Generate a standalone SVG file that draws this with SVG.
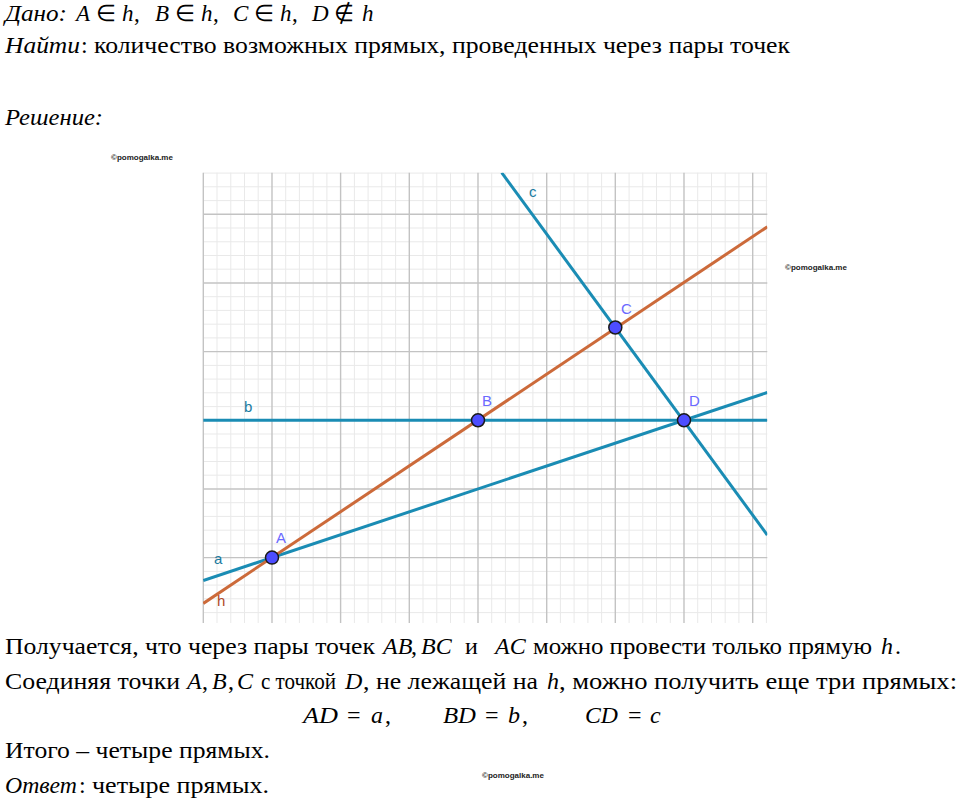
<svg xmlns="http://www.w3.org/2000/svg" width="960" height="803" viewBox="0 0 960 803">
<defs>
<style>
.t{font-family:"Liberation Serif","Times New Roman",serif;font-size:24px;fill:#000}
.i{font-style:italic}
.wm{font-family:"Liberation Sans",Arial,sans-serif;font-size:8px;font-weight:bold;fill:#222}
.minor{stroke:#e9e9e9;stroke-width:1;fill:none}
.major{stroke:#c3c3c3;stroke-width:1.4;fill:none}
.teal{stroke:#1a8cb4;stroke-width:3;fill:none}
.orange{stroke:#cc6a3a;stroke-width:3;fill:none}
.pt{fill:#4d4dff;stroke:#1a1a1a;stroke-width:1.5}
.pl{font-family:"Liberation Sans",Arial,sans-serif;font-size:15px;fill:#6a6aff}
.ll{font-family:"Liberation Sans",Arial,sans-serif;font-size:15px;fill:#1a7aa0}
.hl{font-family:"Liberation Sans",Arial,sans-serif;font-size:15px;fill:#b04a2a}
</style>
<clipPath id="gc"><rect x="203" y="172.7" width="564.3" height="450.3"/></clipPath>
</defs>

<g id="header">
<text class="t" y="21" style="font-size:23px"><tspan x="5" class="i" textLength="62" lengthAdjust="spacingAndGlyphs">Дано:</tspan><tspan x="76" class="i">A</tspan><tspan x="96">∈</tspan><tspan x="122" class="i">h</tspan><tspan x="134">,</tspan><tspan x="155" class="i">B</tspan><tspan x="175">∈</tspan><tspan x="201" class="i">h</tspan><tspan x="213">,</tspan><tspan x="233" class="i">C</tspan><tspan x="254">∈</tspan><tspan x="280" class="i">h</tspan><tspan x="292">,</tspan><tspan x="312" class="i">D</tspan><tspan x="334">∉</tspan><tspan x="362" class="i">h</tspan></text>
<text class="t" y="53"><tspan x="5" class="i" textLength="75" lengthAdjust="spacingAndGlyphs">Найти</tspan><tspan x="81">:</tspan><tspan x="94" textLength="696" lengthAdjust="spacingAndGlyphs">количество возможных прямых, проведенных через пары точек</tspan></text>
<text class="t i" x="5" y="125" textLength="98" lengthAdjust="spacingAndGlyphs">Решение:</text>
</g>

<g id="grid">
<path class="minor" d="M217.0 172.7V623M230.8 172.7V623M244.5 172.7V623M258.2 172.7V623M285.7 172.7V623M299.4 172.7V623M313.2 172.7V623M326.9 172.7V623M354.4 172.7V623M368.1 172.7V623M381.8 172.7V623M395.6 172.7V623M423.0 172.7V623M436.8 172.7V623M450.5 172.7V623M464.2 172.7V623M491.7 172.7V623M505.4 172.7V623M519.2 172.7V623M532.9 172.7V623M560.4 172.7V623M574.1 172.7V623M587.9 172.7V623M601.6 172.7V623M629.1 172.7V623M642.8 172.7V623M656.5 172.7V623M670.3 172.7V623M697.7 172.7V623M711.5 172.7V623M725.2 172.7V623M738.9 172.7V623M766.4 172.7V623
M203.3 173.1H767.3M203.3 186.8H767.3M203.3 200.6H767.3M203.3 228.0H767.3M203.3 241.8H767.3M203.3 255.5H767.3M203.3 269.2H767.3M203.3 296.7H767.3M203.3 310.4H767.3M203.3 324.2H767.3M203.3 337.9H767.3M203.3 365.4H767.3M203.3 379.1H767.3M203.3 392.8H767.3M203.3 406.6H767.3M203.3 434.0H767.3M203.3 447.8H767.3M203.3 461.5H767.3M203.3 475.2H767.3M203.3 502.7H767.3M203.3 516.4H767.3M203.3 530.2H767.3M203.3 543.9H767.3M203.3 571.4H767.3M203.3 585.1H767.3M203.3 598.8H767.3M203.3 612.6H767.3"/>
<path class="major" d="M203.3 172.7V623M272.0 172.7V623M340.6 172.7V623M409.3 172.7V623M478.0 172.7V623M546.7 172.7V623M615.3 172.7V623M684.0 172.7V623M752.7 172.7V623
M203.3 214.3H767.3M203.3 283.0H767.3M203.3 351.6H767.3M203.3 420.3H767.3M203.3 489.0H767.3M203.3 557.6H767.3"/>
</g>

<g id="connectors" clip-path="url(#gc)">
<line id="line-b" class="teal" x1="203.3" y1="420.3" x2="767.3" y2="420.3"/>
<line id="line-a" class="teal" x1="203.3" y1="580.5" x2="767.3" y2="392.5"/>
<line id="line-c" class="teal" x1="501.7" y1="172.7" x2="767.3" y2="535"/>
<line id="line-h" class="orange" x1="203.3" y1="603.4" x2="767.3" y2="226.8"/>
</g>

<g id="line-labels">
<text class="ll" x="529" y="197">c</text>
<text class="ll" x="244" y="412">b</text>
<text class="ll" x="214" y="564">a</text>
<text class="hl" x="217" y="606">h</text>
</g>

<g id="node-A"><circle class="pt" cx="272" cy="557.6" r="6.5"/><text class="pl" x="276" y="543">A</text></g>
<g id="node-B"><circle class="pt" cx="478" cy="420.3" r="6.5"/><text class="pl" x="482" y="406">B</text></g>
<g id="node-C"><circle class="pt" cx="615.3" cy="327.5" r="6.5"/><text class="pl" x="621" y="314">C</text></g>
<g id="node-D"><circle class="pt" cx="684" cy="420.3" r="6.5"/><text class="pl" x="689" y="406">D</text></g>

<g id="watermarks">
<text class="wm" x="111" y="160">©pomogalka.me</text>
<text class="wm" x="785" y="270">©pomogalka.me</text>
<text class="wm" x="482" y="778">©pomogalka.me</text>
</g>

<g id="footer">
<text class="t" y="654"><tspan x="5" textLength="370" lengthAdjust="spacingAndGlyphs">Получается, что через пары точек</tspan><tspan x="383" class="i">AB</tspan><tspan x="411">,</tspan><tspan x="421" class="i">BC</tspan><tspan x="465">и</tspan><tspan x="495" class="i">AC</tspan><tspan x="533" textLength="339" lengthAdjust="spacingAndGlyphs">можно провести только прямую</tspan><tspan x="881" class="i">h</tspan><tspan x="895">.</tspan></text>
<text class="t" y="689"><tspan x="5" textLength="175" lengthAdjust="spacingAndGlyphs">Соединяя точки</tspan><tspan x="187" class="i">A</tspan><tspan x="202">,</tspan><tspan x="212" class="i">B</tspan><tspan x="228">,</tspan><tspan x="237" class="i">C</tspan><tspan x="261" textLength="75" lengthAdjust="spacingAndGlyphs">с точкой</tspan><tspan x="345" class="i">D</tspan><tspan x="363" textLength="175" lengthAdjust="spacingAndGlyphs">, не лежащей на</tspan><tspan x="547" class="i">h</tspan><tspan x="559" textLength="398" lengthAdjust="spacingAndGlyphs">, можно получить еще три прямых:</tspan></text>
<text class="t" y="723"><tspan x="303" class="i" textLength="35" lengthAdjust="spacingAndGlyphs">AD</tspan><tspan x="347">=</tspan><tspan x="371" class="i">a</tspan><tspan x="385">,</tspan><tspan x="443" class="i" textLength="33" lengthAdjust="spacingAndGlyphs">BD</tspan><tspan x="485">=</tspan><tspan x="508" class="i">b</tspan><tspan x="522">,</tspan><tspan x="585" class="i" textLength="33" lengthAdjust="spacingAndGlyphs">CD</tspan><tspan x="628">=</tspan><tspan x="650" class="i">c</tspan></text>
<text class="t" x="5" y="758" textLength="265" lengthAdjust="spacingAndGlyphs">Итого – четыре прямых.</text>
<text class="t" y="793"><tspan x="5" class="i" textLength="72" lengthAdjust="spacingAndGlyphs">Ответ</tspan><tspan x="79">:</tspan><tspan x="92" textLength="177" lengthAdjust="spacingAndGlyphs">четыре прямых.</tspan></text>
</g>
</svg>
